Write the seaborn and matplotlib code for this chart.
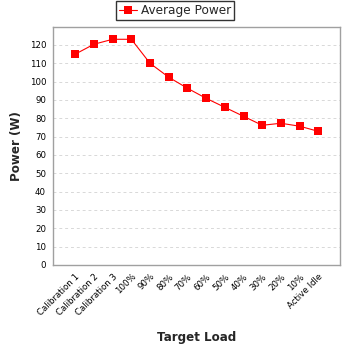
import matplotlib
matplotlib.use("Agg")
import matplotlib.pyplot as plt
import seaborn as sns
import pandas as pd

categories = ["Calibration 1", "Calibration 2", "Calibration 3", "100%", "90%", "80%",
              "70%", "60%", "50%", "40%", "30%", "20%", "10%", "Active Idle"]
power = [115.0, 120.4, 123.1, 123.1, 110.0, 102.4, 96.4, 90.9, 86.0, 81.1, 76.2, 77.3, 75.7, 72.9]
y_ticks = [0, 10, 20, 30, 40, 50, 60, 70, 80, 90, 100, 110, 120]

sns.set_style("white")
plt.rcParams['font.family'] = ['DejaVu Sans']

df = pd.DataFrame({"Target Load": categories, "Power": power, "x": range(len(categories))})

fig = plt.figure(figsize=(3.48, 3.48), dpi=100)
ax = fig.add_axes([53/348, 1 - 265/348, (340-53)/348, (265-27)/348])

sns.lineplot(data=df, x="x", y="Power", ax=ax, color="#ff0000", linewidth=0.8,
             marker="s", markersize=5.6, markeredgewidth=0, markeredgecolor="#ff0000",
             label="Average Power")

ax.set_xlim(-1.19, len(categories) - 1 + 1.16)
ax.set_ylim(0, 129.8)
ax.set_yticks(y_ticks)
ax.set_yticklabels([str(v) for v in y_ticks], fontsize=6.2)
ax.set_xticks(range(len(categories)))
ax.set_xticklabels(categories, rotation=45, ha="right", rotation_mode="anchor", fontsize=6.2)
ax.grid(axis="y", color="#d8d8d8", linestyle=(0, (3, 3)), linewidth=0.7)
ax.set_axisbelow(True)
for s in ax.spines.values():
    s.set_color("#a0a0a0")
    s.set_linewidth(1.0)
ax.tick_params(axis="both", length=2, width=0.8, color="#a0a0a0", pad=3, labelcolor="black")
ax.set_xlabel("Target Load", fontsize=8.6, fontweight="bold", labelpad=10)
ax.set_ylabel("Power (W)", fontsize=8.6, fontweight="bold", labelpad=5)

leg = ax.legend(loc="upper center", bbox_to_anchor=(175/348, 1.0), bbox_transform=fig.transFigure,
                frameon=True, fancybox=False, fontsize=8.7, handlelength=1.5, borderpad=0.25,
                handletextpad=0.3, borderaxespad=0.1, markerscale=1.0)
leg.get_frame().set_edgecolor("black")
leg.get_frame().set_linewidth(1.0)

fig.savefig("out.png", dpi=100)
